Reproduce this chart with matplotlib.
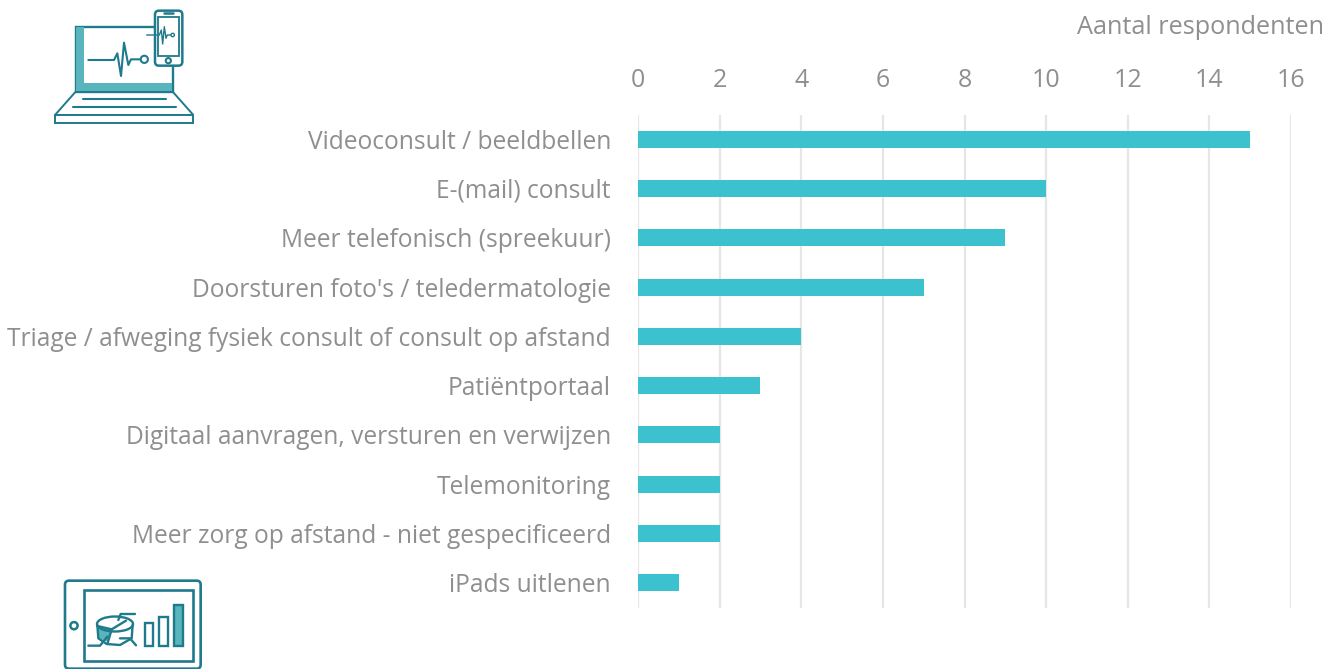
import matplotlib
matplotlib.use("Agg")
import matplotlib.pyplot as plt
from matplotlib.patches import Rectangle, FancyBboxPatch, Circle, Polygon, Ellipse

plt.rcParams['font.family'] = ['Open Sans', 'DejaVu Sans']

categories = ["Videoconsult / beeldbellen", "E-(mail) consult", "Meer telefonisch (spreekuur)",
              "Doorsturen foto's / teledermatologie",
              "Triage / afweging fysiek consult of consult op afstand", "Patiëntportaal",
              "Digitaal aanvragen, versturen en verwijzen", "Telemonitoring",
              "Meer zorg op afstand - niet gespecificeerd", "iPads uitlenen"]
values = [15, 10, 9, 7, 4, 3, 2, 2, 2, 1]
xticks = [0, 2, 4, 6, 8, 10, 12, 14, 16]
axis_title = "Aantal respondenten"

W, H = 1340, 669
TEXT = "#8f8f8f"
BAR = "#3cc1cf"
GRID = "#e6e6e6"
DARK = "#1f7a8c"
MID = "#58b5bd"

fig = plt.figure(figsize=(W / 100, H / 100), dpi=100, facecolor="white")
ax = fig.add_axes([638 / W, 1 - 607.5 / H, (1291 - 638) / W, (607.5 - 114.5) / H])
pos = list(range(len(categories)))
ax.barh(pos, values, height=0.345, color=BAR, zorder=3)
ax.set_ylim(len(categories) - 0.5, -0.5)
ax.set_xlim(0, 16)
ax.set_xticks(xticks)
ax.set_yticks(pos, categories)
ax.xaxis.tick_top()
ax.grid(axis="x", color=GRID, linewidth=1.6, zorder=0)
ax.set_axisbelow(True)
for s in ax.spines.values():
    s.set_visible(False)
ax.tick_params(axis="x", length=0, pad=15.5, labelsize=18, labelcolor=TEXT)
ax.tick_params(axis="y", length=0, pad=19.5, labelsize=17.65, labelcolor=TEXT)
fig.text(1324 / W, 1 - 27.5 / H, axis_title, ha="right", va="center", fontsize=18.2, color=TEXT)

# Decorative icons, in a pixel-space overlay
ov = fig.add_axes([0, 0, 1, 1], facecolor="none")
ov.set_xlim(0, W)
ov.set_ylim(H, 0)
ov.axis("off")


def lap(x, y):
    return (30 + x / 3, y / 3)


def tab(x, y):
    return (50 + x / 3, 570 + y / 3)


def line(conv, pts, color=DARK, lw=1.5, z=6):
    xy = [conv(*p) for p in pts]
    ov.plot([p[0] for p in xy], [p[1] for p in xy], color=color, lw=lw, zorder=z,
            solid_capstyle="round", solid_joinstyle="round")


def rect(conv, x0, y0, x1, y1, fc="none", ec=DARK, lw=1.7, z=2):
    a = conv(x0, y0)
    b = conv(x1, y1)
    ov.add_patch(Rectangle(a, b[0] - a[0], b[1] - a[1], fc=fc, ec=ec, lw=lw, zorder=z))


def rrect(conv, x0, y0, x1, y1, r, fc="white", ec=DARK, lw=1.7, z=3):
    a = conv(x0, y0)
    b = conv(x1, y1)
    ov.add_patch(FancyBboxPatch((a[0] + r, a[1] + r), b[0] - a[0] - 2 * r, b[1] - a[1] - 2 * r,
                                boxstyle=f"round,pad={r},rounding_size={r}",
                                fc=fc, ec=ec, lw=lw, zorder=z))


def circ(conv, x, y, r, lw=1.5, z=7):
    ov.add_patch(Circle(conv(x, y), r, fc="white", ec=DARK, lw=lw, zorder=z))


# Laptop
rect(lap, 137, 80, 428, 275, fc="white")
rect(lap, 138, 82, 162, 274, fc=MID, ec="none")
rect(lap, 138, 250, 427, 274, fc=MID, ec="none")
ov.add_patch(Polygon([lap(137, 275), lap(75, 345), lap(490, 345), lap(428, 275)],
                     fc="white", ec=DARK, lw=1.4))
rect(lap, 75, 345, 490, 370, fc="white", lw=1.4)
line(lap, [(158, 298), (408, 298)])
line(lap, [(128, 320), (438, 320)])
line(lap, [(175, 180), (252, 180), (262, 160), (273, 228), (282, 128), (295, 195),
           (303, 178), (332, 178)])
circ(lap, 343, 178, 3.6)
# Phone
rrect(lap, 375, 32, 457, 197, 4, lw=1.8)
rect(lap, 385, 50, 447, 168, fc="white", lw=1.3, z=4)
line(lap, [(402, 39), (430, 39)], lw=1.8)
circ(lap, 415, 182, 2.6)
line(lap, [(350, 105), (388, 105), (394, 90), (398, 132), (403, 80), (408, 115),
           (412, 105), (424, 105)], lw=1.0)
circ(lap, 428, 105, 1.7, lw=1.0)

# Tablet
rrect(tab, 45, 32, 452, 296, 4, lw=1.9, z=2)
rect(tab, 102, 60, 430, 272, fc="white", lw=1.9, z=3)
circ(tab, 72, 167, 3.6, lw=1.8)
rect(tab, 285, 160, 310, 228, fc="white", lw=1.7, z=4)
rect(tab, 328, 140, 355, 228, fc="white", lw=1.7, z=4)
rect(tab, 372, 105, 400, 228, fc=MID, lw=1.7, z=4)
ov.add_patch(Polygon([tab(142, 172), tab(185, 178), tab(172, 215), tab(148, 205)],
                     fc=MID, ec="none", zorder=4))
ov.add_patch(Ellipse(tab(195, 162), 36, 15, fc="none", ec=DARK, lw=1.7, zorder=5))
line(tab, [(142, 165), (145, 205), (170, 222), (210, 225), (245, 205), (248, 165)], lw=1.7)
for pts in ([(142, 168), (185, 178), (228, 152)], [(185, 178), (172, 222)],
            [(115, 227), (150, 227), (172, 200)], [(212, 132), (255, 132)],
            [(212, 132), (205, 150)], [(210, 205), (240, 205), (258, 226)]):
    line(tab, pts, lw=1.7)

fig.savefig("out.png", dpi=100, facecolor="white")
